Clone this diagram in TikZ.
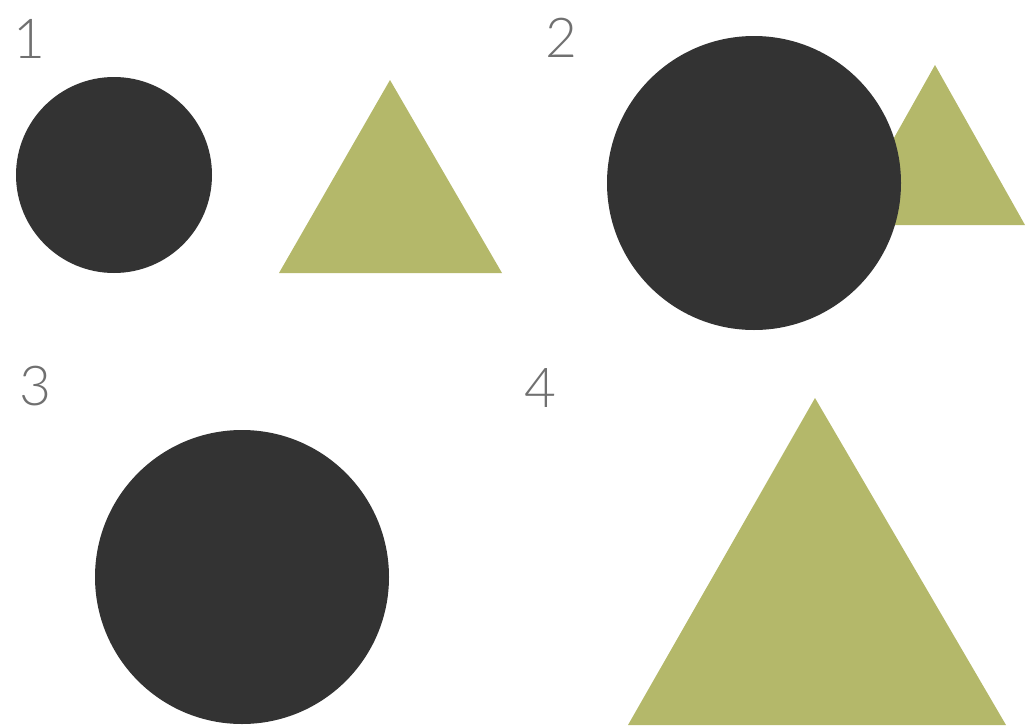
\documentclass[tikz,border=0pt]{standalone}
\usepackage{fontspec}
\setmainfont{Lato}
\newfontfamily\lightfont{Lato Light}
\definecolor{darkfill}{HTML}{333333}
\definecolor{olive}{HTML}{B4B86A}
\definecolor{labelgray}{HTML}{707070}
\begin{document}
\begin{tikzpicture}[x=1pt,y=-1pt,
  dark/.style={fill=darkfill,draw=none},
  tri/.style={fill=olive,draw=none},
  lbl/.style={text=labelgray,anchor=base,inner sep=0pt,font=\lightfont\fontsize{55}{60}\selectfont}]
\useasboundingbox (0,0) rectangle (1026,726);
% panel 1
\node[lbl] (l1) at (29,58) {1};
\fill[dark] (114,175) circle (98);
\fill[tri] (390,80) -- (502,273) -- (279,273) -- cycle;
% panel 2
\node[lbl] (l2) at (561,57) {2};
\fill[tri] (935,65) -- (1025,225) -- (845,225) -- cycle;
\fill[dark] (754,183) circle (147);
% panel 3
\node[lbl] (l3) at (35,405) {3};
\fill[dark] (242,577) circle (147);
% panel 4
\node[lbl] (l4) at (540,407) {4};
\fill[tri] (815,398) -- (1006,725) -- (628,725) -- cycle;
\end{tikzpicture}
\end{document}
